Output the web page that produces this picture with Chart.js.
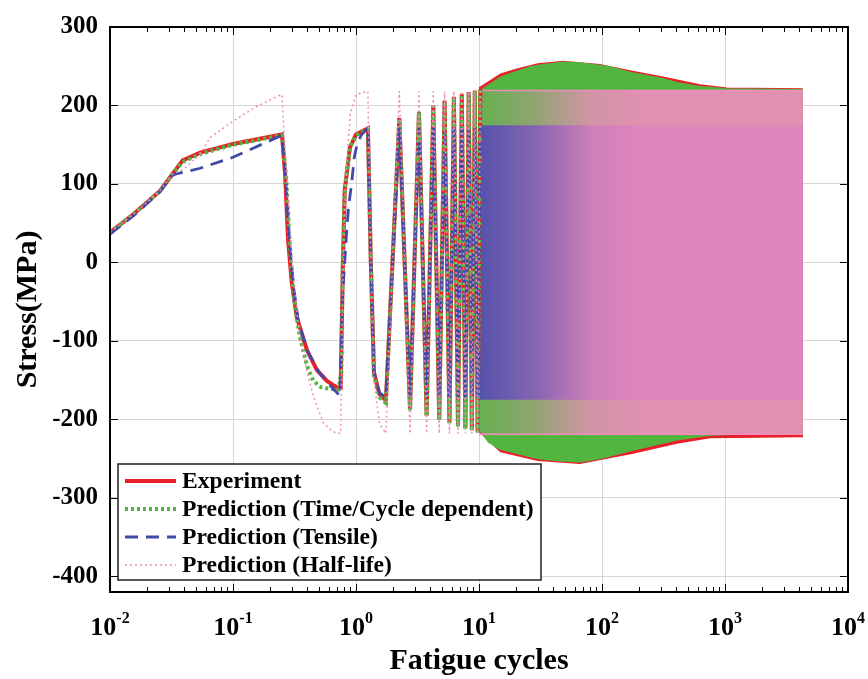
<!DOCTYPE html>
<html>
<head>
<meta charset="utf-8">
<script src="https://cdn.jsdelivr.net/npm/chart.js@4.4.0/dist/chart.umd.min.js"></script>
<style>
  html, body { margin: 0; padding: 0; background: #fff; }
  #wrap { width: 868px; height: 679px; position: relative; }
</style>
</head>
<body>
<div id="wrap"><canvas id="stress"></canvas></div>
<script>
// turning points: x = fatigue cycles, y = stress (MPa)
const expX = [0.01, 0.0154, 0.0255, 0.032, 0.039, 0.054, 0.1, 0.25, 0.265, 0.28, 0.3, 0.33, 0.4, 0.48, 0.58, 0.71, 0.75, 0.78, 0.81, 0.89, 1.0, 1.25, 1.32, 1.4, 1.55, 1.75, 2.25, 2.75, 3.25, 3.75, 4.25, 4.75, 5.25, 5.75, 6.25, 6.75, 7.25, 7.75, 8.25, 8.75, 9.25, 9.75, 10.25];
const expY = [38, 61, 91, 112, 130, 140, 151, 163, 113, 30, -25, -70, -112, -137, -151, -160, -160, -12, 92, 146, 163, 171, 0, -140, -168, -176, 184, -187, 192, -195, 200, -200, 206, -204, 211, -208, 215, -211, 217, -214, 219, -216, 221];

const cycX = [0.01, 0.0154, 0.0255, 0.032, 0.039, 0.054, 0.1, 0.25, 0.27, 0.29, 0.31, 0.33, 0.35, 0.4, 0.45, 0.52, 0.6, 0.72, 0.76, 0.78, 0.81, 0.9, 1.0, 1.25, 1.32, 1.4, 1.55, 1.75, 2.25, 2.75, 3.25, 3.75, 4.25, 4.75, 5.25, 5.75, 6.25, 6.75, 7.25, 7.75, 8.25, 8.75, 9.25, 9.75, 10.25];
const cycY = [38, 61, 91, 112, 128, 138, 150, 162, 110, 20, -40, -70, -95, -132, -151, -159, -161, -162, -140, 0, 95, 148, 162, 170, 0, -145, -172, -179, 183, -188, 191, -196, 199, -201, 205, -205, 210, -209, 214, -212, 216, -215, 218, -217, 220];

const tenX = [0.01, 0.0154, 0.0255, 0.032, 0.035, 0.054, 0.1, 0.25, 0.27, 0.29, 0.31, 0.34, 0.4, 0.5, 0.6, 0.74, 0.78, 0.84, 0.87, 0.92, 0.97, 1.02, 1.1, 1.25, 1.32, 1.4, 1.55, 1.75, 2.25, 2.75, 3.25, 3.75, 4.25, 4.75, 5.25, 5.75, 6.25, 6.75, 7.25, 7.75, 8.25, 8.75, 9.25, 9.75, 10.25];
const tenY = [36, 59, 90, 111, 113, 120, 134, 162, 100, 20, -30, -75, -112, -140, -155, -170, -40, 40, 71, 100, 135, 150, 162, 172, 0, -140, -166, -172, 172, -172, 172, -172, 172, -172, 172, -172, 172, -172, 172, -172, 172, -172, 172, -172, 172];

const halfX = [0.01, 0.0154, 0.0255, 0.032, 0.04, 0.054, 0.065, 0.1, 0.157, 0.24, 0.25, 0.27, 0.3, 0.34, 0.4, 0.45, 0.54, 0.65, 0.75, 0.78, 0.82, 0.9, 1.0, 1.25, 1.3, 1.4, 1.55, 1.75, 2.25, 2.75, 3.25, 3.75, 4.25, 4.75, 5.25, 5.75, 6.25, 6.75, 7.25, 7.75, 8.25, 8.75, 9.25, 9.75, 10.25];
const halfY = [38, 61, 91, 112, 119, 138, 159, 180, 199, 213, 214, 120, 10, -80, -140, -170, -204, -216, -218, -30, 100, 190, 214, 218, 50, -150, -205, -218, 218, -218, 218, -218, 218, -218, 218, -218, 218, -218, 218, -218, 218, -218, 218, -218, 218];

// envelopes of the dense cycling region (> 10 cycles)
const expUpX = [10, 15, 20, 30, 48, 96, 169, 313, 626, 1037, 4300];
const expUpY = [222, 240, 246, 253, 256, 252, 244, 236, 226, 222, 221];
const expLoX = [10, 15, 30, 66, 179, 407, 755, 4300];
const expLoY = [-215, -241, -252, -256, -243, -230, -223, -222];

const cycUpX = [10, 12, 15, 20, 26, 30, 48, 66, 96, 116, 169, 313, 407, 626, 1037, 4300];
const cycUpY = [218, 226, 236, 243, 249, 251, 255, 254, 251, 249, 242, 234, 229, 224, 221, 220];
const cycLoX = [10, 12, 15, 20, 30, 48, 66, 96, 179, 407, 755, 1161, 4300];
const cycLoY = [-212, -229, -238, -243, -250, -253, -254, -250, -239, -226, -220, -219, -219];

const tenBandX = [10, 4300];
const tenUpY = [174, 174];
const tenLoY = [-174, -174];

const halfBandX = [10, 4300];
const halfUpY = [219, 219];
const halfLoY = [-219, -219];

const xTicks = [0.01, 0.1, 1, 10, 100, 1000, 10000];
const yTicks = [-400, -300, -200, -100, 0, 100, 200, 300];

const RED = '#e8202a';
const GREEN = '#52b540';
const BLUE = '#3f4aa8';
const PINK = '#f08cbe';
const SERIF = '"Liberation Serif", "Times New Roman", serif';

const pts = (xs, ys) => xs.map((x, i) => ({ x, y: ys[i] }));

const band = (xs, ys, color, order, fill, bg) => ({
  data: pts(xs, ys),
  borderColor: color,
  borderWidth: 1.5,
  backgroundColor: bg || color,
  fill: fill ? '-1' : false,
  pointRadius: 0,
  order
});

// pink half-life band fades in: the sparse early cycles let the lower layers show
const pinkFade = (context) => {
  const chart = context.chart;
  if (!chart.chartArea) return PINK;
  const xs = chart.scales.x;
  const g = chart.ctx.createLinearGradient(xs.getPixelForValue(10), 0, xs.getPixelForValue(200), 0);
  g.addColorStop(0, 'rgba(240,140,190,0.12)');
  g.addColorStop(0.35, 'rgba(240,140,190,0.4)');
  g.addColorStop(0.7, 'rgba(240,140,190,0.8)');
  g.addColorStop(1, 'rgba(240,140,190,0.9)');
  return g;
};

const datasets = [
  band(expUpX, expUpY, RED, 8, false),
  band(expLoX, expLoY, RED, 8, true),
  band(cycUpX, cycUpY, GREEN, 7, false),
  band(cycLoX, cycLoY, GREEN, 7, true),
  band(tenBandX, tenUpY, BLUE, 6, false),
  band(tenBandX, tenLoY, BLUE, 6, true),
  band(halfBandX, halfUpY, PINK, 5, false, pinkFade),
  band(halfBandX, halfLoY, PINK, 5, true, pinkFade),
  { label: 'Experiment', legendEntry: true, data: pts(expX, expY), borderColor: RED, borderWidth: 4, pointRadius: 0, fill: false, order: 4 },
  { label: 'Prediction (Time/Cycle dependent)', legendEntry: true, data: pts(cycX, cycY), borderColor: GREEN, borderWidth: 4, borderDash: [3, 3], pointRadius: 0, fill: false, order: 3 },
  { label: 'Prediction (Tensile)', legendEntry: true, data: pts(tenX, tenY), borderColor: BLUE, borderWidth: 2.8, borderDash: [13, 8], pointRadius: 0, fill: false, order: 2 },
  { label: 'Prediction (Half-life)', legendEntry: true, data: pts(halfX, halfY), borderColor: PINK, borderWidth: 1.5, borderDash: [2, 3], pointRadius: 0, fill: false, order: 1 }
];

// box, inward ticks, 10^n labels and the legend, drawn like the matlab figure
const matlabFrame = {
  id: 'matlabFrame',
  afterDatasetsDraw(chart) {
    const { ctx, chartArea: a, scales: { x, y } } = chart;
    ctx.save();
    ctx.strokeStyle = '#000';
    ctx.lineWidth = 1;
    ctx.setLineDash([]);
    ctx.beginPath();
    for (let e = -2; e < 4; e++) {
      for (let m = 1; m < 10; m++) {
        const px = Math.round(x.getPixelForValue(m * Math.pow(10, e))) + 0.5;
        const len = m === 1 ? 8 : 5;
        ctx.moveTo(px, a.bottom); ctx.lineTo(px, a.bottom - len);
        ctx.moveTo(px, a.top); ctx.lineTo(px, a.top + len);
      }
    }
    yTicks.forEach(v => {
      const py = Math.round(y.getPixelForValue(v)) + 0.5;
      ctx.moveTo(a.left, py); ctx.lineTo(a.left + 8, py);
      ctx.moveTo(a.right, py); ctx.lineTo(a.right - 8, py);
    });
    ctx.stroke();

    ctx.lineWidth = 2;
    ctx.strokeRect(a.left, a.top, a.right - a.left, a.bottom - a.top);

    // x tick labels with superscript exponents
    ctx.fillStyle = '#000';
    ctx.textBaseline = 'alphabetic';
    ctx.textAlign = 'left';
    xTicks.forEach(v => {
      const ex = String(Math.round(Math.log10(v)));
      const px = x.getPixelForValue(v);
      ctx.font = 'bold 26px ' + SERIF;
      const wb = ctx.measureText('10').width;
      ctx.font = 'bold 16px ' + SERIF;
      const we = ctx.measureText(ex).width;
      const x0 = px - (wb + we) / 2;
      ctx.font = 'bold 26px ' + SERIF;
      ctx.fillText('10', x0, 635);
      ctx.font = 'bold 16px ' + SERIF;
      ctx.fillText(ex, x0 + wb, 623);
    });

    // legend box inside the axes, lower left
    const lx = 118, ly = 464, lw = 423, lh = 116;
    ctx.fillStyle = '#fff';
    ctx.fillRect(lx, ly, lw, lh);
    ctx.lineWidth = 1.5;
    ctx.strokeStyle = '#222';
    ctx.strokeRect(lx, ly, lw, lh);
    const entries = chart.data.datasets.filter(d => d.legendEntry);
    ctx.font = 'bold 23.6px ' + SERIF;
    ctx.textBaseline = 'middle';
    entries.forEach((d, i) => {
      const cy = 481 + i * 28;
      ctx.strokeStyle = d.borderColor;
      ctx.lineWidth = d.borderWidth;
      ctx.setLineDash(d.borderDash || []);
      ctx.beginPath();
      ctx.moveTo(125, cy); ctx.lineTo(176, cy);
      ctx.stroke();
      ctx.setLineDash([]);
      ctx.fillStyle = '#000';
      ctx.fillText(d.label, 182, cy + 1);
    });
    ctx.restore();
  }
};

new Chart(document.getElementById('stress'), {
  type: 'line',
  data: { datasets },
  options: {
    responsive: true,
    maintainAspectRatio: false,
    animation: false,
    events: [],
    layout: { padding: { top: 17, right: 20, bottom: 0, left: 0 } },
    plugins: {
      legend: { display: false },
      tooltip: { enabled: false }
    },
    scales: {
      x: {
        type: 'logarithmic',
        min: 0.01,
        max: 10000,
        afterBuildTicks: s => { s.ticks = xTicks.map(v => ({ value: v })); },
        afterFit: s => { s.height = 87; },
        ticks: { display: false },
        grid: { color: '#d6d6d6', lineWidth: 1, drawTicks: false },
        border: { display: false },
        title: {
          display: true,
          text: 'Fatigue cycles',
          color: '#000',
          font: { family: SERIF, size: 30, weight: 'bold', lineHeight: 1.2 },
          padding: { top: 0, bottom: 0 }
        }
      },
      y: {
        type: 'linear',
        min: -420,
        max: 300,
        afterBuildTicks: s => { s.ticks = yTicks.map(v => ({ value: v })); },
        afterFit: s => { s.width = 110; },
        ticks: {
          color: '#000',
          padding: 12,
          font: { family: SERIF, size: 25, weight: 'bold' },
          callback: v => String(v)
        },
        grid: { color: '#d6d6d6', lineWidth: 1, drawTicks: false },
        border: { display: false },
        title: {
          display: true,
          text: 'Stress(MPa)',
          color: '#000',
          font: { family: SERIF, size: 30, weight: 'bold', lineHeight: 1.2 },
          padding: { top: 10, bottom: 0 }
        }
      }
    }
  },
  plugins: [matlabFrame]
});
</script>
</body>
</html>
